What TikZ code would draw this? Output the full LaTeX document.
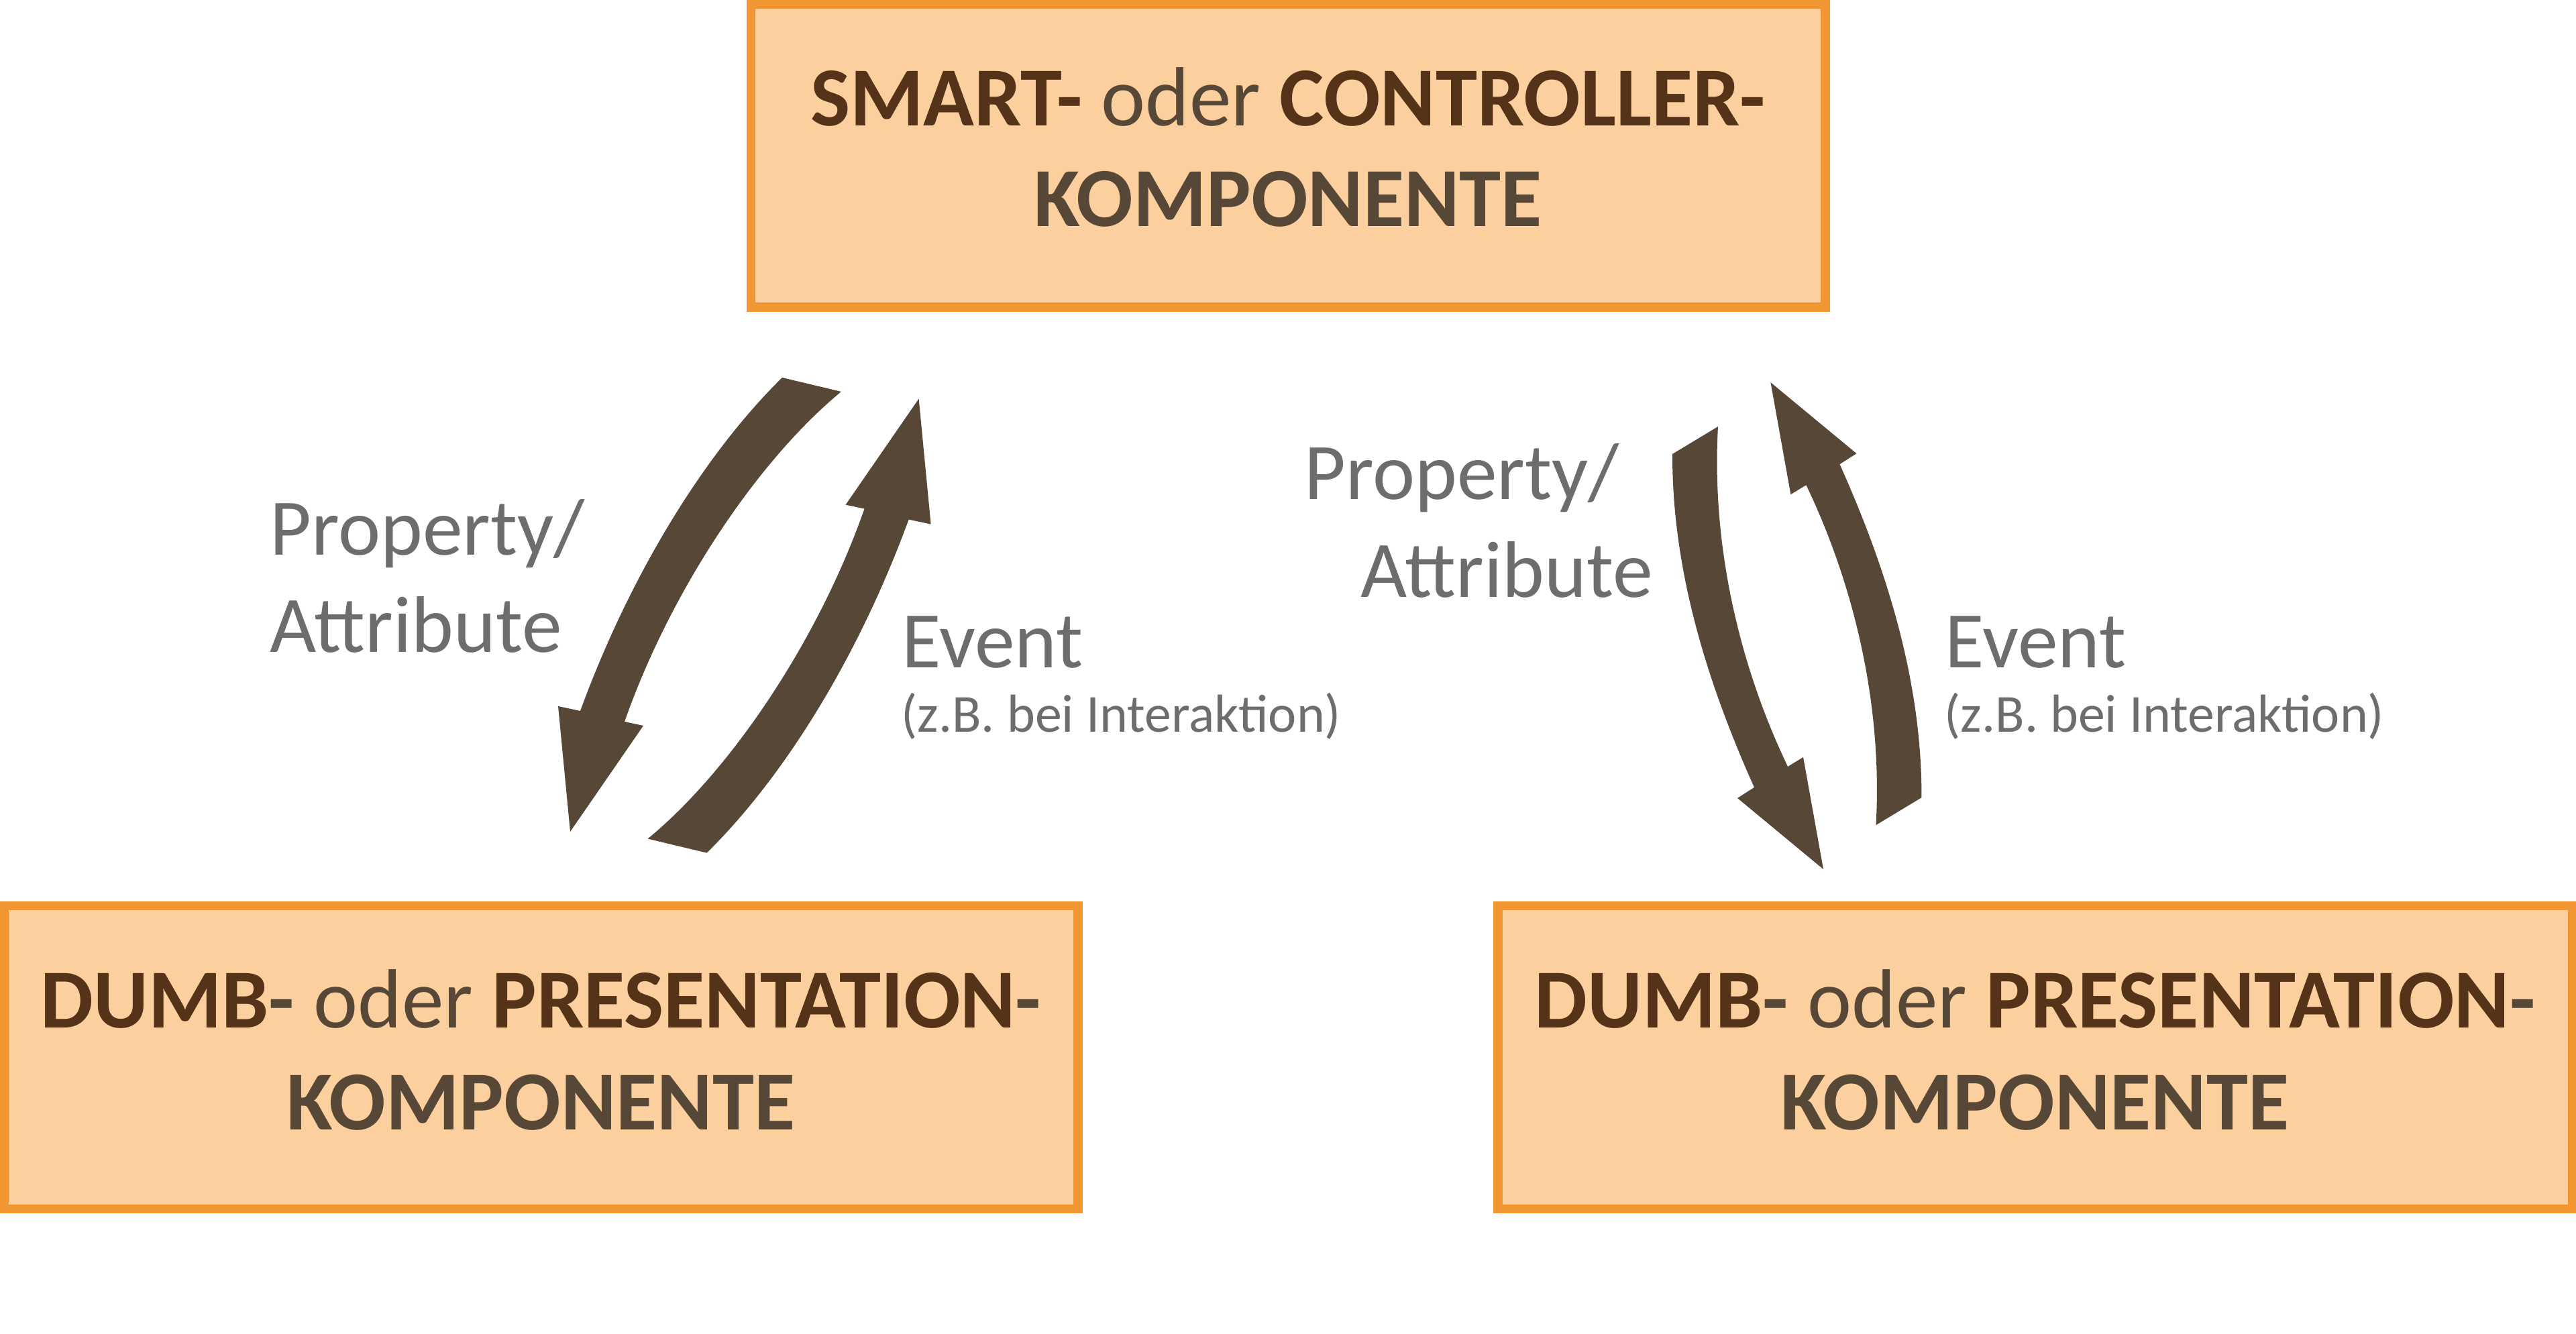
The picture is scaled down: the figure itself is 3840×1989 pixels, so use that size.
\documentclass[tikz,border=0pt]{standalone}
\usepackage{fontspec}
\setmainfont{Carlito}
\usepackage[HTML]{xcolor}
\usepackage{tikz}
\usetikzlibrary{positioning}

\definecolor{boxfill}{HTML}{FCCF9E}
\definecolor{boxline}{HTML}{F29633}
\definecolor{keybrown}{HTML}{553318}
\definecolor{softbrown}{HTML}{574737}
\definecolor{labelgrey}{HTML}{6D6D6D}

\newcommand{\kw}[1]{\textcolor{keybrown}{\bfseries #1}}

\begin{document}
\begin{tikzpicture}[x=0.01cm, y=-0.01cm,
  comp/.style={draw=boxline, fill=boxfill, line width=3.84pt, minimum width=16.005cm, minimum height=4.52cm, inner sep=0pt},
  comptext/.style={anchor=base, inner sep=0pt, text=softbrown, font=\fontsize{35.6}{43}\selectfont},
  lbl/.style={anchor=base west, inner sep=0pt, text=labelgrey, font=\fontsize{34}{41}\selectfont},
  sublbl/.style={lbl, font=\fontsize{22.7}{27}\selectfont},
  flow/.style={fill=softbrown}]

\useasboundingbox (0,0) rectangle (3840,1989);

% components
\node[comp] (smart) at (1920,232) {};
\node[comp] (dumbL) at (806.5,1576.5) {};
\node[comp] (dumbR) at (3033.5,1576.5) {};

\node[comptext] (smart1) at (1920,188) {\kw{SMART-} oder \kw{CONTROLLER-}};
\node[comptext] (smart2) at (1920,338) {\bfseries KOMPONENTE};

\node[comptext] (dumbL1) at (806.5,1532) {\kw{DUMB}\textbf{-} oder \kw{PRESENTATION}\textbf{-}};
\node[comptext] (dumbL2) at (806.5,1684) {\bfseries KOMPONENTE};

\node[comptext] (dumbR1) at (3033.5,1532) {\kw{DUMB}\textbf{-} oder \kw{PRESENTATION}\textbf{-}};
\node[comptext] (dumbR2) at (3033.5,1684) {\bfseries KOMPONENTE};

% left pair of arrows
\fill[flow] (1166,563) .. controls (1051,676) and (940,855) .. (865,1060) -- (832,1053) -- (850,1240) -- (959,1082) -- (931,1076) .. controls (1000,879) and (1131,685) .. (1254,584) -- cycle;
\fill[flow] (1053.6,1271.6) .. controls (1168.6,1158.6) and (1279.6,979.6) .. (1354.6,774.6) -- (1387.6,781.6) -- (1369.6,594.6) -- (1260.6,752.6) -- (1288.6,758.6) .. controls (1219.6,955.6) and (1088.6,1149.6) .. (965.6,1250.6) -- cycle;

% right pair of arrows
\fill[flow] (2493,677) .. controls (2492.4,855) and (2548.1,1024.7) .. (2615,1174) -- (2590,1190) -- (2718,1296) -- (2688,1129) -- (2665,1143) .. controls (2596.6,1000.4) and (2550.5,821.1) .. (2561,636) -- cycle;
\fill[flow] (2864.4,1189.2) .. controls (2865,1011.2) and (2809.3,841.5) .. (2742.4,692.2) -- (2767.4,676.2) -- (2639.4,570.2) -- (2669.4,737.2) -- (2692.4,723.2) .. controls (2760.8,865.8) and (2806.9,1045.1) .. (2796.4,1230.2) -- cycle;

% labels
\node[lbl] (propL) at (402,828) {Property/};
\node[lbl] (attrL) at (402,973) {Attribute};
\node[lbl] (eventL) at (1344,995.6) {Event};
\node[sublbl] (hintL) at (1343,1091.6) {(z.B. bei Interaktion)};

\node[lbl] (propR) at (1944,744.5) {Property/};
\node[lbl] (attrR) at (2028,891) {Attribute};
\node[lbl] (eventR) at (2899,995.6) {Event};
\node[sublbl] (hintR) at (2898,1091.6) {(z.B. bei Interaktion)};
\end{tikzpicture}
\end{document}
